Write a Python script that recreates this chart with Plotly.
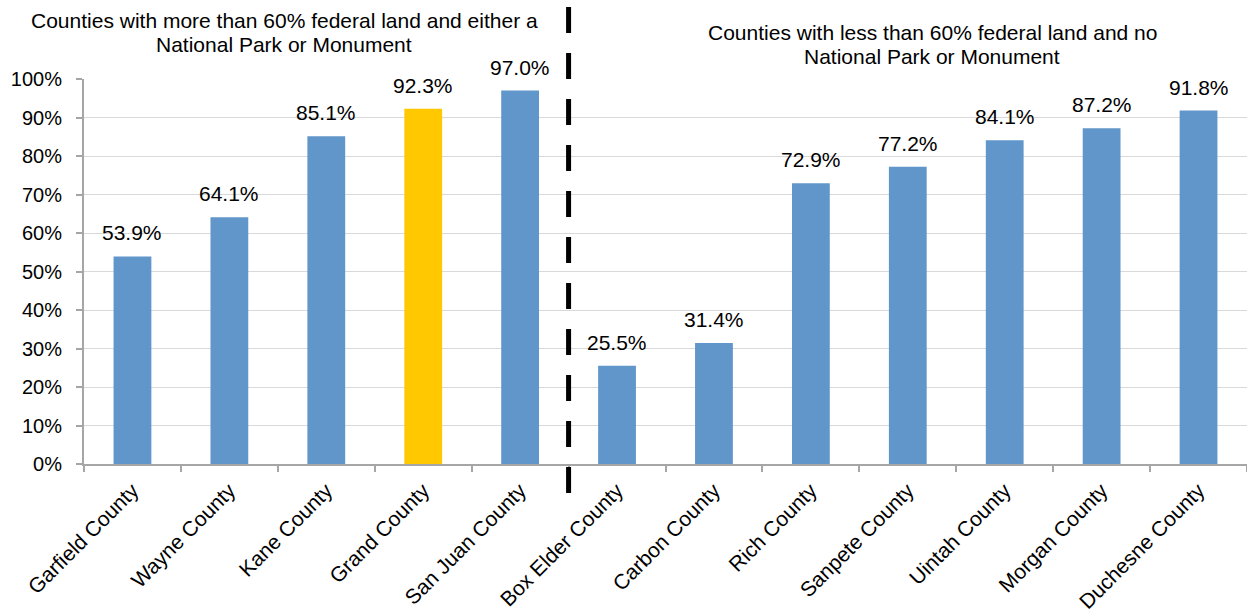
import plotly.graph_objects as go

counties = ["Garfield County", "Wayne County", "Kane County", "Grand County", "San Juan County",
            "Box Elder County", "Carbon County", "Rich County", "Sanpete County", "Uintah County",
            "Morgan County", "Duchesne County"]
shares = [0.539, 0.641, 0.851, 0.923, 0.970, 0.255, 0.314, 0.729, 0.772, 0.841, 0.872, 0.918]
highlight = "Grand County"

left_header = ["Counties with more than 60% federal land and either a", "National Park or Monument"]
right_header = ["Counties with less than 60% federal land and no", "National Park or Monument"]

BLUE = "#6096C9"
GOLD = "#FFC800"
FONT = "Liberation Sans, Arial, sans-serif"

W, H = 1247, 609
L, R, T, B = 84, 0, 79, 145
plot_h = H - T - B
plot_w = W - L - R

colors = [GOLD if c == highlight else BLUE for c in counties]

fig = go.Figure(go.Bar(
    x=counties, y=shares, marker=dict(color=colors, line=dict(width=0)),
    hoverinfo="x+y",
))

# value labels above each bar
for c, v in zip(counties, shares):
    fig.add_annotation(x=c, y=v, text=f"{v * 100:.1f}%", showarrow=False,
                       yanchor="bottom", yshift=10,
                       font=dict(size=21, color="#000", family=FONT))


def px_x(px):
    return (px - L) / plot_w


def px_y(py):
    return (H - B - py) / plot_h


# group headers, one annotation per line for tight line spacing
for lines, cx, cy in [(left_header, 284, 21), (right_header, 932, 33)]:
    for i, line in enumerate(lines):
        fig.add_annotation(xref="paper", yref="paper", x=px_x(cx), y=px_y(cy + 23 * i),
                           text=line, showarrow=False, xanchor="center", yanchor="middle",
                           font=dict(size=21, color="#000", family=FONT))

# dashed divider between the two groups
fig.add_shape(type="line", xref="x", yref="paper", x0=4.5, x1=4.5,
              y0=px_y(7), y1=px_y(500),
              line=dict(color="#000", width=5, dash="26px,20px"), layer="above")

fig.update_layout(
    width=W, height=H,
    margin=dict(l=L, r=R, t=T, b=B),
    plot_bgcolor="white", paper_bgcolor="white",
    bargap=0.61, showlegend=False,
    font=dict(family=FONT, size=20, color="#000"),
)
fig.update_yaxes(range=[0, 1], tickvals=[i / 10 for i in range(11)],
                 ticktext=[f"{i * 10}%" for i in range(11)],
                 showgrid=True, gridcolor="#D9D9D9", gridwidth=1,
                 showline=True, linecolor="#A6A6A6", linewidth=2,
                 ticks="outside", ticklen=6, tickcolor="#A6A6A6", tickwidth=2,
                 ticklabelstandoff=10, zeroline=False, automargin=False,
                 tickfont=dict(size=20, family=FONT, color="#000"))
fig.update_xaxes(tickangle=-45, showline=True, linecolor="#A6A6A6", linewidth=2,
                 ticks="outside", tickson="boundaries", ticklen=6, tickcolor="#A6A6A6",
                 tickwidth=2, automargin=False, ticklabelstandoff=4,
                 tickfont=dict(size=21, family=FONT, color="#000"))

fig.write_html("out.html")
